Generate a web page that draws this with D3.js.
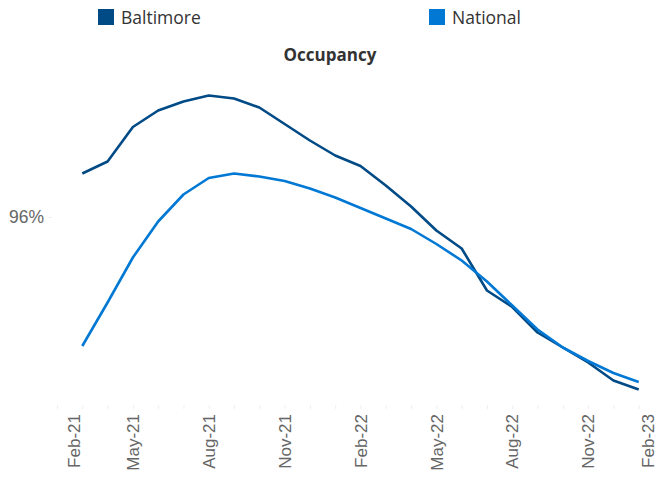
<!DOCTYPE html>
<html>
<head>
<meta charset="utf-8">
<script src="https://cdn.jsdelivr.net/npm/d3@7"></script>
<style>
  html, body { margin: 0; padding: 0; background: #fff; }
  svg { display: block; }
</style>
</head>
<body>
<svg id="chart" width="660" height="480"></svg>
<script>
// Axis months (Feb-21 .. Feb-23)
const axisMonths = ["Feb-21","Mar-21","Apr-21","May-21","Jun-21","Jul-21","Aug-21","Sep-21","Oct-21","Nov-21","Dec-21","Jan-22",
  "Feb-22","Mar-22","Apr-22","May-22","Jun-22","Jul-22","Aug-22","Sep-22","Oct-22","Nov-22","Dec-22","Jan-23","Feb-23"];
const tickLabels = ["Feb-21","May-21","Aug-21","Nov-21","Feb-22","May-22","Aug-22","Nov-22","Feb-23"];
const yTickValues = [0.96];
// Data months (Mar-21 .. Jan-23)
const dataMonths = ["Mar-21","Apr-21","May-21","Jun-21","Jul-21","Aug-21","Sep-21","Oct-21","Nov-21","Dec-21","Jan-22",
  "Feb-22","Mar-22","Apr-22","May-22","Jun-22","Jul-22","Aug-22","Sep-22","Oct-22","Nov-22","Dec-22","Jan-23"];
const baltimore = [0.9629,0.9637,0.9660,0.9671,0.9677,0.9681,0.9679,0.9673,0.9662,0.9651,0.9641,
  0.9634,0.9621,0.9607,0.9591,0.9579,0.9551,0.9540,0.9523,0.9513,0.9503,0.9491,0.9485];
const national = [0.9514,0.9543,0.9573,0.9597,0.9615,0.9626,0.9629,0.9627,0.9624,0.9619,0.9613,
  0.9606,0.9599,0.9592,0.9582,0.9571,0.9557,0.9541,0.9525,0.9513,0.9504,0.9496,0.9490];
const seriesNames = ["Baltimore", "National"];
const seriesColors = ["#004A86", "#0078D4"];

const svg = d3.select("#chart");
const x = d3.scalePoint().domain(axisMonths).range([57, 664]);
const y = d3.scaleLinear().domain([0.947, 0.97]).range([412, 67]);

// faint month ticks along the bottom
const xAxis = d3.axisBottom(x).tickSize(4).tickFormat("");
const gx = svg.append("g").attr("transform", "translate(0,405)").call(xAxis);
gx.select(".domain").remove();
gx.selectAll(".tick line").attr("stroke", "#efefef");

// rotated tick labels
svg.append("g").selectAll("text")
  .data(tickLabels)
  .join("text")
  .attr("transform", d => `translate(${Math.max(74, Math.min(648, x(d)))},414) rotate(-90)`)
  .attr("text-anchor", "end")
  .attr("dy", "0.36em")
  .attr("font-family", "Liberation Sans, Arial, sans-serif")
  .attr("font-size", 17)
  .attr("fill", "#666")
  .text(d => d);

// y axis: single label
const yAxis = d3.axisLeft(y).tickValues(yTickValues).tickSize(4).tickPadding(4).tickFormat(d3.format(".0%"));
const gy = svg.append("g").attr("transform", "translate(52,0)").call(yAxis);
gy.select(".domain").remove();
gy.selectAll(".tick line").attr("stroke", "#efefef");
gy.selectAll(".tick text")
  .attr("font-family", "Liberation Sans, Arial, sans-serif")
  .attr("font-size", 17.5)
  .attr("fill", "#666");

// lines
const line = d3.line().x(d => x(d.m)).y(d => y(d.v));
[baltimore, national].forEach((vals, i) => {
  svg.append("path")
    .datum(vals.map((v, j) => ({ m: dataMonths[j], v })))
    .attr("fill", "none")
    .attr("stroke", seriesColors[i])
    .attr("stroke-width", 2.6)
    .attr("stroke-linejoin", "round")
    .attr("d", line);
});

// title
svg.append("text")
  .attr("x", 330).attr("y", 61)
  .attr("text-anchor", "middle")
  .attr("font-family", "Open Sans, sans-serif")
  .attr("font-weight", "bold")
  .attr("font-size", 17)
  .attr("fill", "#333")
  .text("Occupancy");

// legend
const legendX = [98, 429];
const lg = svg.append("g").selectAll("g").data(seriesNames).join("g")
  .attr("transform", (d, i) => `translate(${legendX[i]},9)`);
lg.append("rect").attr("width", 16).attr("height", 16).attr("fill", (d, i) => seriesColors[i]);
lg.append("text").attr("x", 23).attr("y", 15)
  .attr("font-family", "Open Sans, sans-serif")
  .attr("font-size", 17.5)
  .attr("fill", "#333")
  .text(d => d);
</script>
</body>
</html>
